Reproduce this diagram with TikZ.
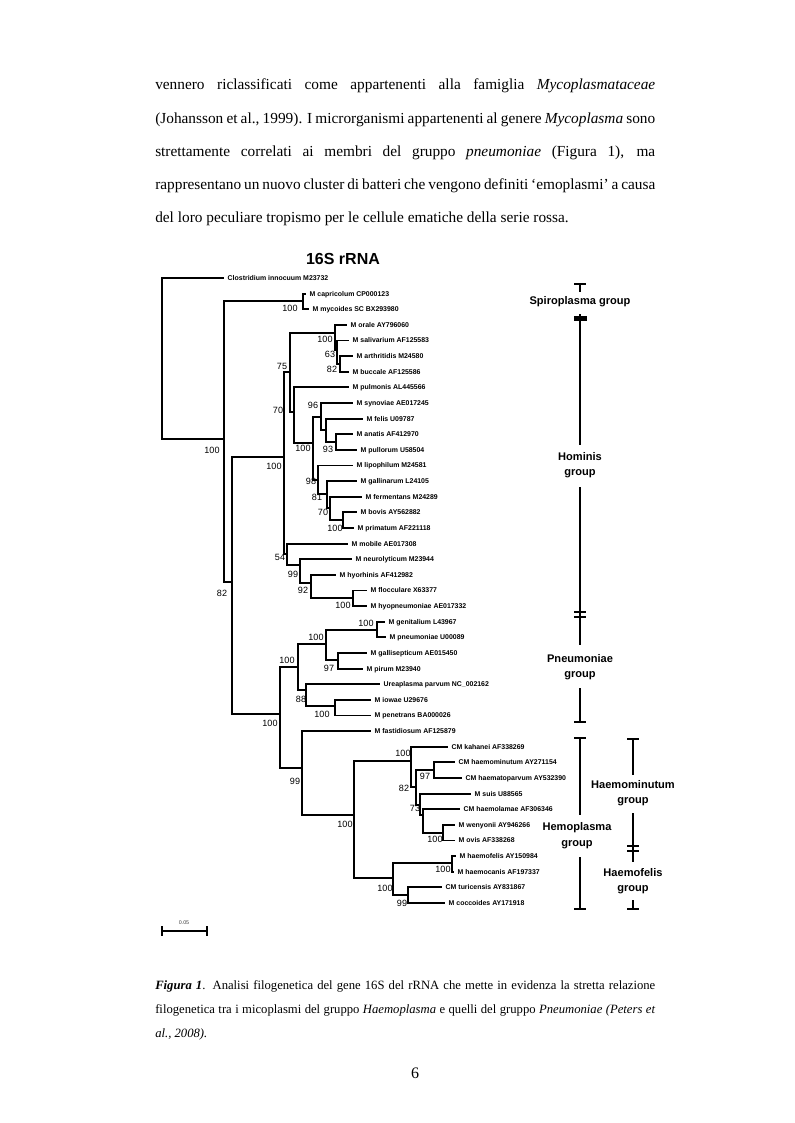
\documentclass[tikz,border=0pt]{standalone}
\usepackage{fontspec}
\setmainfont{Liberation Serif}
\newfontfamily\arial{Liberation Sans}
\begin{document}
\begin{tikzpicture}[x=0.75pt,y=-0.75pt,
 br/.style={line width=1.45pt},
 brk/.style={line width=1.5pt},
 leaf/.style={anchor=west, inner xsep=2.6pt, inner ysep=0pt, text height=3.7pt, text depth=0pt, font=\arial\bfseries\fontsize{5.2}{6}\selectfont},
 boot/.style={inner sep=0pt, font=\arial\fontsize{6.8}{7}\selectfont},
 grp/.style={inner sep=0pt, align=center, font=\arial\bfseries\fontsize{8.3}{11.5}\selectfont},
 body/.style={anchor=base west, inner sep=0pt, font=\fontsize{11.5}{14}\selectfont},
 capt/.style={anchor=base west, inner sep=0pt, font=\fontsize{9.5}{12}\selectfont}]
\useasboundingbox (0,0) rectangle (794,1123);
\fill[white] (0,0) rectangle (794,1123);

% body text
\node[body] (t1) at (155,90) {\makebox[375pt][s]{vennero riclassificati come appartenenti alla famiglia \textit{Mycoplasmataceae}}};
\node[body] (t2) at (155,123.25) {\makebox[375pt][s]{(Johansson et al., 1999). I microrganismi appartenenti al genere \textit{Mycoplasma} sono}};
\node[body] (t3) at (155,156.5) {\makebox[375pt][s]{strettamente correlati ai membri del gruppo \textit{pneumoniae} (Figura 1), ma}};
\node[body] (t4) at (155,189.75) {\makebox[375pt][s]{rappresentano un nuovo cluster di batteri che vengono definiti ‘emoplasmi’ a causa}};
\node[body] (t5) at (155,223) {del loro peculiare tropismo per le cellule ematiche della serie rossa.};

% title
\node[font=\arial\bfseries\fontsize{12}{14}\selectfont, inner sep=0pt] (title) at (343,259) {16S rRNA};

% internal nodes
\coordinate (root) at (162,358);
\coordinate (n1) at (224,439);
\coordinate (myc) at (303,301);
\coordinate (n2) at (232,582);
\coordinate (H) at (284,457);
\coordinate (D) at (290,372);
\coordinate (O) at (335,333);
\coordinate (S) at (337,350);
\coordinate (AB) at (340,364);
\coordinate (V3) at (294,412);
\coordinate (E) at (313,443);
\coordinate (F) at (321,417);
\coordinate (F2) at (326,430);
\coordinate (F3) at (336,442);
\coordinate (G) at (318,480);
\coordinate (G2) at (327,494);
\coordinate (G3) at (330,508);
\coordinate (G4) at (343,520);
\coordinate (C) at (287,554);
\coordinate (N99) at (300,565);
\coordinate (N92) at (311,583);
\coordinate (HF) at (353,598);
\coordinate (P) at (280,714);
\coordinate (Pn) at (298,667);
\coordinate (Pn1) at (326,644);
\coordinate (GP) at (377,629.6);
\coordinate (GPi) at (338,660);
\coordinate (U88) at (306,690);
\coordinate (IP) at (335,706);
\coordinate (HP) at (302,768);
\coordinate (Hemo) at (354,815);
\coordinate (Hm) at (411,761);
\coordinate (N97) at (434,770);
\coordinate (K2) at (416,787);
\coordinate (N73) at (420,805);
\coordinate (N73b) at (423,815);
\coordinate (WO) at (443,832.7);
\coordinate (Hf) at (393,878);
\coordinate (HfC) at (452,863);
\coordinate (TC) at (408,895);

% leaves
\node[leaf] (clost) at (224,278) {Clostridium innocuum M23732};
\node[leaf] (capri) at (306,293.6) {M capricolum CP000123};
\node[leaf] (mycoi) at (309,309.3) {M mycoides SC BX293980};
\node[leaf] (orale) at (347,324.9) {M orale AY796060};
\node[leaf] (saliv) at (349,340.5) {M salivarium AF125583};
\node[leaf] (arthr) at (353,356.1) {M arthritidis M24580};
\node[leaf] (bucca) at (349,371.8) {M buccale AF125586};
\node[leaf] (pulmo) at (349,387.4) {M pulmonis AL445566};
\node[leaf] (synov) at (353,403) {M synoviae AE017245};
\node[leaf] (felis) at (363,418.6) {M felis U09787};
\node[leaf] (anati) at (353,434.3) {M anatis AF412970};
\node[leaf] (pullo) at (357,449.9) {M pullorum U58504};
\node[leaf] (lipop) at (353,465.5) {M lipophilum M24581};
\node[leaf] (galli) at (357,481.1) {M gallinarum L24105};
\node[leaf] (ferme) at (362,496.8) {M fermentans M24289};
\node[leaf] (bovis) at (357,512.4) {M bovis AY562882};
\node[leaf] (prima) at (354,528) {M primatum AF221118};
\node[leaf] (mobil) at (348,543.6) {M mobile AE017308};
\node[leaf] (neuro) at (352,559.3) {M neurolyticum M23944};
\node[leaf] (hyorh) at (336,574.9) {M hyorhinis AF412982};
\node[leaf] (flocc) at (367,590.5) {M flocculare X63377};
\node[leaf] (hyopn) at (367,606.1) {M hyopneumoniae AE017332};
\node[leaf] (genit) at (385,621.8) {M genitalium L43967};
\node[leaf] (pneum) at (386,637.4) {M pneumoniae U00089};
\node[leaf] (galls) at (367,653) {M gallisepticum AE015450};
\node[leaf] (pirum) at (363,668.6) {M pirum M23940};
\node[leaf] (ureap) at (380,684.3) {Ureaplasma parvum NC\_002162};
\node[leaf] (iowae) at (371,699.9) {M iowae U29676};
\node[leaf] (penet) at (371,715.5) {M penetrans BA000026};
\node[leaf] (fasti) at (371,731.1) {M fastidiosum AF125879};
\node[leaf] (kahan) at (448,746.8) {CM kahanei AF338269};
\node[leaf] (hmin) at (455,762.4) {CM haemominutum AY271154};
\node[leaf] (hpar) at (462,778) {CM haematoparvum AY532390};
\node[leaf] (suis) at (471,793.6) {M suis U88565};
\node[leaf] (hlam) at (460,809.3) {CM haemolamae AF306346};
\node[leaf] (weny) at (455,824.9) {M wenyonii AY946266};
\node[leaf] (ovis) at (455,840.5) {M ovis AF338268};
\node[leaf] (hfel) at (456,856.1) {M haemofelis AY150984};
\node[leaf] (hcan) at (454,871.8) {M haemocanis AF197337};
\node[leaf] (turi) at (442,887.4) {CM turicensis AY831867};
\node[leaf] (cocc) at (445,903) {M coccoides AY171918};

% branches
\foreach \p/\c in {root/clost.west, root/n1, n1/myc, n1/n2, myc/capri.west, myc/mycoi.west,
 n2/H, n2/P, H/D, H/C, D/O, D/V3, O/orale.west, O/S, S/saliv.west, S/AB, AB/arthr.west, AB/bucca.west,
 V3/pulmo.west, V3/E, E/F, E/G, F/synov.west, F/F2, F2/felis.west, F2/F3, F3/anati.west, F3/pullo.west,
 G/lipop.west, G/G2, G2/galli.west, G2/G3, G3/ferme.west, G3/G4, G4/bovis.west, G4/prima.west,
 C/mobil.west, C/N99, N99/neuro.west, N99/N92, N92/hyorh.west, N92/HF, HF/flocc.west, HF/hyopn.west,
 P/Pn, P/HP, Pn/Pn1, Pn/U88, Pn1/GP, Pn1/GPi, GP/genit.west, GP/pneum.west, GPi/galls.west, GPi/pirum.west,
 U88/ureap.west, U88/IP, IP/iowae.west, IP/penet.west, HP/fasti.west, HP/Hemo, Hemo/Hm, Hemo/Hf,
 Hm/kahan.west, Hm/K2, K2/N97, K2/N73, N97/hmin.west, N97/hpar.west, N73/suis.west, N73/N73b,
 N73b/hlam.west, N73b/WO, WO/weny.west, WO/ovis.west, Hf/HfC, Hf/TC, HfC/hfel.west, HfC/hcan.west,
 TC/turi.west, TC/cocc.west}
 \draw[br] (\p) |- (\c);

% bootstrap values
\node[boot] (b01) at (212,450) {100};
\node[boot] (b02) at (290,308) {100};
\node[boot] (b03) at (222,593) {82};
\node[boot] (b04) at (282,366) {75};
\node[boot] (b05) at (278,410) {70};
\node[boot] (b06) at (274,466) {100};
\node[boot] (b07) at (325,339) {100};
\node[boot] (b08) at (330,354) {63};
\node[boot] (b09) at (332,369) {82};
\node[boot] (b10) at (303,448) {100};
\node[boot] (b11) at (313,405) {96};
\node[boot] (b12) at (328,449) {93};
\node[boot] (b13) at (311,481) {98};
\node[boot] (b14) at (317,497) {81};
\node[boot] (b15) at (323,512) {70};
\node[boot] (b16) at (335,528) {100};
\node[boot] (b17) at (280,557) {54};
\node[boot] (b18) at (293,574) {99};
\node[boot] (b19) at (303,590) {92};
\node[boot] (b20) at (343,605) {100};
\node[boot] (b21) at (366,623) {100};
\node[boot] (b22) at (316,637) {100};
\node[boot] (b23) at (287,660) {100};
\node[boot] (b24) at (329,668) {97};
\node[boot] (b25) at (301,699) {88};
\node[boot] (b26) at (322,714) {100};
\node[boot] (b27) at (270,723) {100};
\node[boot] (b28) at (295,781) {99};
\node[boot] (b29) at (345,824) {100};
\node[boot] (b30) at (403,753) {100};
\node[boot] (b31) at (425,776) {97};
\node[boot] (b32) at (404,788) {82};
\node[boot] (b33) at (415,808) {73};
\node[boot] (b34) at (435,839) {100};
\node[boot] (b35) at (443,869) {100};
\node[boot] (b36) at (385,888) {100};
\node[boot] (b37) at (402,903) {99};

% scale bar
\draw[line width=1.2pt] (162,931) -- (207,931) (162,926) -- (162,936) (207,926) -- (207,936);
\node[inner sep=0pt, font=\arial\fontsize{4}{5}\selectfont, text=black!75] (sc) at (184,923) {0.05};

% group labels
\node[grp] (spiro) at (580,302) {Spiroplasma group};
\node[grp] (homin) at (580,465) {Hominis\\group};
\node[grp] (pneu) at (580,667) {Pneumoniae\\group};
\node[grp] (hemo) at (577,835.5) {Hemoplasma\\group};
\node[grp] (hmgr) at (633,793) {Haemominutum\\group};
\node[grp] (hfgr) at (633,881) {Haemofelis\\group};

% brackets
\draw[brk] (574,284) -- (586,284) (580,284) -- (580,292);
\fill (574,316) rectangle (587,321);
\draw[brk] (580,314) -- (580,445);
\draw[brk] (580,487) -- (580,645) (574,611.5) -- (586,611.5) (574,616.5) -- (586,616.5);
\draw[brk] (580,688) -- (580,722) (574,722) -- (586,722);
\draw[brk] (574,738) -- (586,738) (580,738) -- (580,815);
\draw[brk] (580,857) -- (580,909) (574,909) -- (586,909);
\draw[brk] (627,739) -- (639,739) (633,739) -- (633,775);
\draw[brk] (633,813) -- (633,862) (627,846) -- (639,846) (627,851) -- (639,851);
\draw[brk] (633,900) -- (633,909) (627,909) -- (639,909);

% caption
\node[capt] (c1) at (155,989) {\makebox[375pt][s]{\textbf{\textit{Figura 1}}. Analisi filogenetica del gene 16S del rRNA che mette in evidenza la stretta relazione}};
\node[capt] (c2) at (155,1013) {\makebox[375pt][s]{filogenetica tra i micoplasmi del gruppo \textit{Haemoplasma} e quelli del gruppo \textit{Pneumoniae (Peters et}}};
\node[capt] (c3) at (155,1037) {\textit{al., 2008).}};

% page number
\node[anchor=base, inner sep=0pt, font=\fontsize{12}{14}\selectfont] (pg) at (415,1078) {6};
\end{tikzpicture}
\end{document}
